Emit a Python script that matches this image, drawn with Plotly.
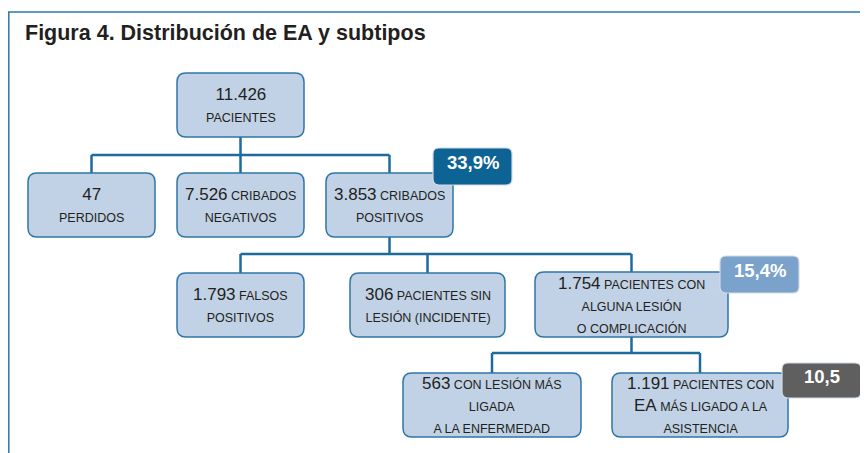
import plotly.graph_objects as go

# ---- data ----
title_bold = "Figura 4."
title_rest = "Distribución de EA y subtipos"
node_ids = ["total", "perdidos", "negativos", "positivos", "falsos", "sinlesion", "lesion", "enfermedad", "asistencia"]
node_counts = ["11.426", "47", "7.526", "3.853", "1.793", "306", "1.754", "563", "1.191"]
node_texts = [
    ["", "PACIENTES"],
    ["", "PERDIDOS"],
    [" CRIBADOS", "NEGATIVOS"],
    [" CRIBADOS", "POSITIVOS"],
    [" FALSOS", "POSITIVOS"],
    [" PACIENTES SIN", "LESIÓN (INCIDENTE)"],
    [" PACIENTES CON", "ALGUNA LESIÓN", "O COMPLICACIÓN"],
    [" CON LESIÓN MÁS", "LIGADA", "A LA ENFERMEDAD"],
    [" PACIENTES CON", "EA|MÁS LIGADO A LA", "ASISTENCIA"],
]
edges = [("total", ["perdidos", "negativos", "positivos"]),
         ("positivos", ["falsos", "sinlesion", "lesion"]),
         ("lesion", ["enfermedad", "asistencia"])]
badge_nodes = ["positivos", "lesion", "asistencia"]
badge_values = ["33,9%", "15,4%", "10,5"]

# ---- layout (pixel positions) ----
box_pos = {
    "total": (177, 73, 304, 137),
    "perdidos": (28, 173, 155, 237),
    "negativos": (177, 173, 304, 237),
    "positivos": (326, 173, 453, 237),
    "falsos": (177, 273, 304, 337),
    "sinlesion": (350, 273, 505, 337),
    "lesion": (535, 272, 728, 337),
    "enfermedad": (403, 373, 581, 437),
    "asistencia": (612, 373, 788, 437),
}
bar_y = {"total": 155, "positivos": 254, "lesion": 353}
badge_pos = {
    "positivos": (433, 148, 512, 185),
    "lesion": (720, 256, 799, 293),
    "asistencia": (782, 363, 861, 398),
}
badge_fill = {"positivos": "#0d6394", "lesion": "#7aa2cb", "asistencia": "#5f5f60"}

BOX_FILL = "#c1d2e6"
BOX_LINE = "#2f76a6"
CONN = "#1d6b9c"
TEXT = "#231f20"
FONT = "Liberation Sans, Arial, sans-serif"
PAGE_OFF = 8  # default page margin of the browser body


def rrect(x0, y0, x1, y1, r):
    return (f"M {x0+r},{y0} L {x1-r},{y0} Q {x1},{y0} {x1},{y0+r} "
            f"L {x1},{y1-r} Q {x1},{y1} {x1-r},{y1} L {x0+r},{y1} "
            f"Q {x0},{y1} {x0},{y1-r} L {x0},{y0+r} Q {x0},{y0} {x0+r},{y0} Z")


def cx(n):
    b = box_pos[n]
    return (b[0] + b[2]) / 2


shapes = []
annotations = []

# frame
shapes.append(dict(type="line", x0=8, y0=12, x1=868, y1=12, line=dict(color="#2a78aa", width=1.5)))
shapes.append(dict(type="line", x0=8.8, y0=12, x1=8.8, y1=453, line=dict(color="#2a78aa", width=1.5)))

# connectors
for parent, children in edges:
    px = cx(parent)
    py = box_pos[parent][3]
    by = bar_y[parent]
    xs = [cx(c) for c in children]
    shapes.append(dict(type="line", x0=px, y0=py, x1=px, y1=by, line=dict(color=CONN, width=2.5)))
    shapes.append(dict(type="line", x0=min(xs), y0=by, x1=max(xs), y1=by, line=dict(color=CONN, width=2.5)))
    for c, x in zip(children, xs):
        shapes.append(dict(type="line", x0=x, y0=by, x1=x, y1=box_pos[c][1], line=dict(color=CONN, width=2.5)))

# boxes
for nid, cnt, txt in zip(node_ids, node_counts, node_texts):
    x0, y0, x1, y1 = box_pos[nid]
    shapes.append(dict(type="path", path=rrect(x0, y0, x1, y1, 9), fillcolor=BOX_FILL,
                       line=dict(color=BOX_LINE, width=1.5)))
    sm = "<span style='font-size:12.5px'>%s</span>"
    lines = []
    first = txt[0]
    lines.append(cnt + (sm % first if first else ""))
    for t in txt[1:]:
        if "|" in t:
            big, small = t.split("|")
            lines.append(big + (sm % (" " + small)))
        else:
            lines.append(sm % t)
    annotations.append(dict(x=(x0 + x1) / 2, y=(y0 + y1) / 2, xref="x", yref="y",
                            text="<br>".join(lines), showarrow=False, xanchor="center", yanchor="middle",
                            align="center", font=dict(family=FONT, size=17, color=TEXT)))

# badges
for nid, val in zip(badge_nodes, badge_values):
    x0, y0, x1, y1 = badge_pos[nid]
    shapes.append(dict(type="path", path=rrect(x0, y0, x1, y1, 6), fillcolor=badge_fill[nid],
                       line=dict(color="#d0dbe8", width=1.2)))
    annotations.append(dict(x=(x0 + x1) / 2, y=(y0 + y1) / 2 - 4, xref="x", yref="y",
                            text="<b>%s</b>" % val, showarrow=False, xanchor="center", yanchor="middle",
                            font=dict(family=FONT, size=18.5, color="white")))

# title
annotations.append(dict(x=23, y=33, xref="x", yref="y", xanchor="left", yanchor="middle",
                        text="<b>%s %s</b>" % (title_bold, title_rest), showarrow=False,
                        font=dict(family=FONT, size=21.5, color=TEXT)))

fig = go.Figure()
fig.update_layout(
    width=868 - PAGE_OFF, height=453 - PAGE_OFF, margin=dict(l=0, r=0, t=0, b=0),
    paper_bgcolor="white", plot_bgcolor="white",
    xaxis=dict(range=[PAGE_OFF, 868], visible=False, fixedrange=True),
    yaxis=dict(range=[453, PAGE_OFF], visible=False, fixedrange=True),
    shapes=shapes, annotations=annotations, showlegend=False,
)
fig.write_html("out.html")
